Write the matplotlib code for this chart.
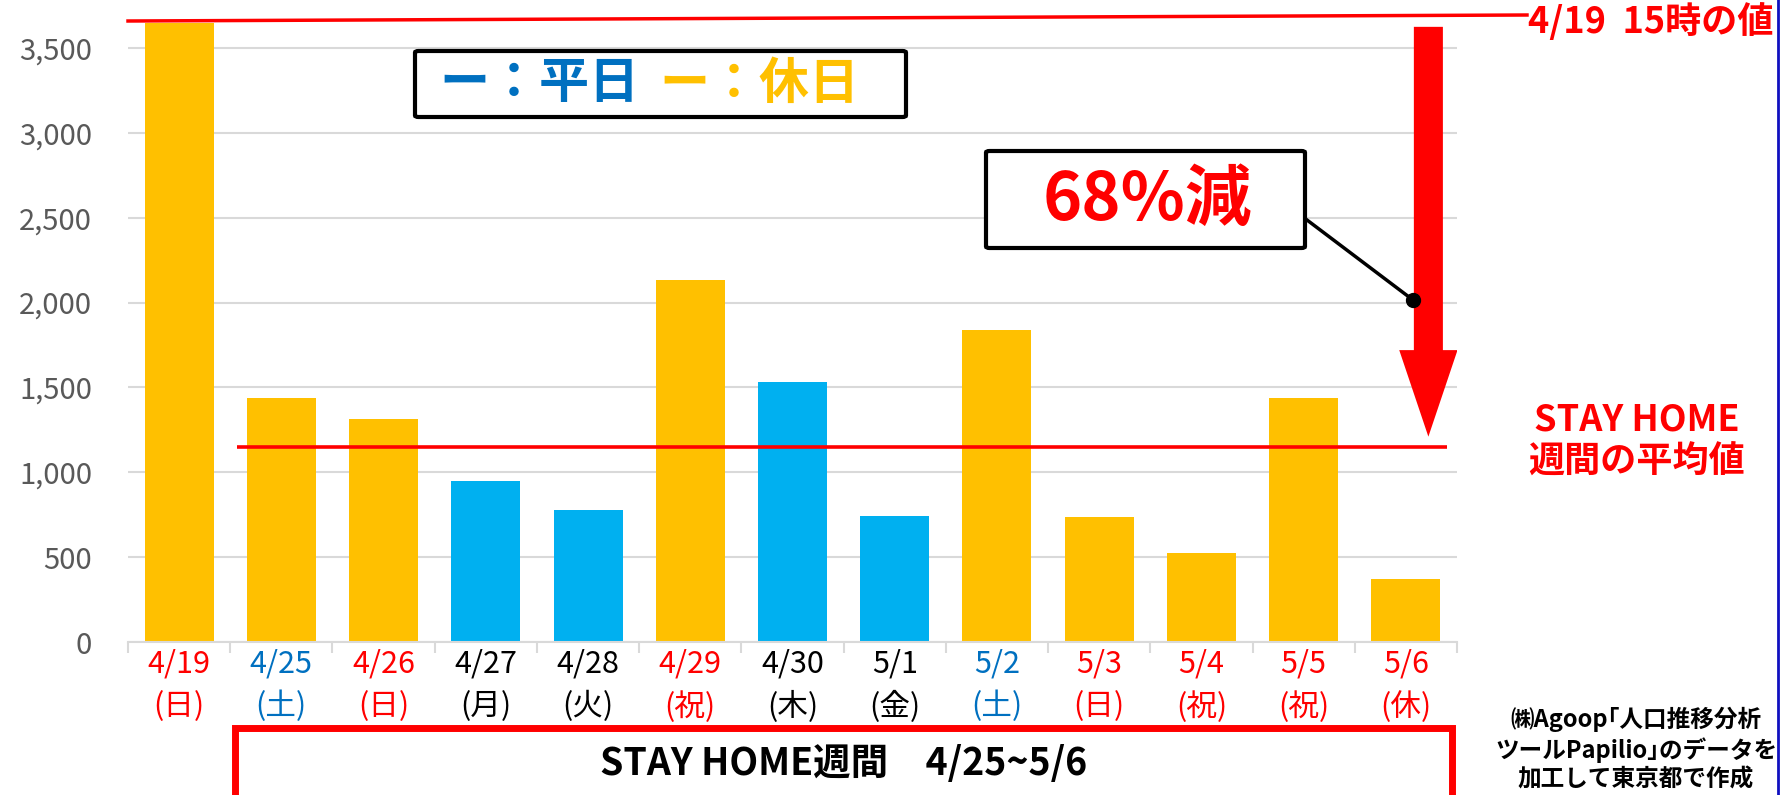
import matplotlib
matplotlib.use('Agg')
import matplotlib.pyplot as plt
from matplotlib.patches import Rectangle, FancyArrow, FancyBboxPatch
from matplotlib.lines import Line2D
from matplotlib.ticker import FuncFormatter

plt.rcParams['font.family'] = ['Noto Sans CJK JP', 'DejaVu Sans']

# data
dates = ['4/19', '4/25', '4/26', '4/27', '4/28', '4/29', '4/30',
         '5/1', '5/2', '5/3', '5/4', '5/5', '5/6']
weekdays = ['日', '土', '日', '月', '火', '祝', '木', '金', '土', '日', '祝', '祝', '休']
values = [3700, 1440, 1315, 950, 780, 2135, 1530, 745, 1840, 735, 525, 1435, 370]
day_type = ['holiday', 'holiday', 'holiday', 'weekday', 'weekday', 'holiday',
            'weekday', 'weekday', 'holiday', 'holiday', 'holiday', 'holiday', 'holiday']
label_kind = ['red', 'blue', 'red', 'black', 'black', 'red', 'black',
              'black', 'blue', 'red', 'red', 'red', 'red']

YELLOW = '#FFC000'
CYAN = '#00B0F0'
BLUE = '#0070C0'
RED = '#FF0000'
GRID = '#D9D9D9'

W, H = 1781, 795


def fx(x):
    return x / W


def fy(y):
    return 1 - y / H


fig = plt.figure(figsize=(W / 100, H / 100), dpi=100)
ax = fig.add_axes([fx(128), fy(642), (1457 - 128) / W, (642 - 22.6) / H])

x = list(range(len(dates)))
bar_colors = [CYAN if t == 'weekday' else YELLOW for t in day_type]
ax.bar(x, values, width=0.675, color=bar_colors, zorder=2)

ax.set_xlim(-0.5, len(dates) - 0.5)
ax.set_ylim(0, 3650)
ax.set_yticks(range(0, 3501, 500))
ax.yaxis.set_major_formatter(FuncFormatter(lambda v, p: f'{v:,.0f}'))
ax.yaxis.grid(True, color=GRID, lw=1.5)
ax.set_axisbelow(True)
for s in ['top', 'right', 'left']:
    ax.spines[s].set_visible(False)
ax.spines['bottom'].set_color(GRID)
ax.spines['bottom'].set_linewidth(1.5)
ax.tick_params(axis='y', length=0, pad=26, labelsize=21, labelcolor='#595959')

ax.set_xticks(x)
ax.set_xticklabels([f'{d}\n({w})' for d, w in zip(dates, weekdays)],
                   fontsize=22, linespacing=1.45)
ax.set_xticks([i - 0.5 for i in range(len(dates) + 1)], minor=True)
ax.tick_params(axis='x', which='major', length=0, pad=5)
ax.tick_params(axis='x', which='minor', length=8, width=1.5, color=GRID)
cmap = {'red': RED, 'blue': BLUE, 'black': 'black'}
for lab, k in zip(ax.get_xticklabels(), label_kind):
    lab.set_color(cmap[k])

# STAY HOME average
avg = sum(values[1:]) / len(values[1:])
ax.hlines(avg, 0.566, 12.4, color=RED, lw=2.6, zorder=4)

# big red arrow from the 4/19 value down to the average
ax.add_patch(FancyArrow(12.22, 3625, 0, (avg + 60) - 3625, width=0.284,
                        head_width=0.57, head_length=510,
                        length_includes_head=True, color=RED, lw=0, zorder=5))

# line for the 4/19 15時 value
fig.add_artist(Line2D([fx(128), fx(1527)], [fy(21), fy(15)], color=RED, lw=2.5))
fig.text(fx(1528), fy(22), '4/19  15時の値', color=RED, fontsize=26,
         fontweight='bold', ha='left', va='center')

# legend box
fig.add_artist(FancyBboxPatch((fx(415), fy(117)), (906 - 415) / W, (117 - 51) / H,
                              boxstyle='round,pad=0,rounding_size=0.002',
                              fill=False, ec='black', lw=3))
fig.text(fx(539), fy(84), 'ー：平日', color=BLUE, fontsize=36,
         fontweight='bold', ha='center', va='center')
fig.text(fx(759), fy(84), 'ー：休日', color=YELLOW, fontsize=36,
         fontweight='bold', ha='center', va='center')

# 68% box and connector
fig.add_artist(FancyBboxPatch((fx(986), fy(248)), (1305 - 986) / W, (248 - 151) / H,
                              boxstyle='round,pad=0,rounding_size=0.002',
                              fc='white', ec='black', lw=3))
fig.text(fx(1147), fy(200), '68%減', color=RED, fontsize=48,
         fontweight='bold', ha='center', va='center')
fig.add_artist(Line2D([fx(1307), fx(1413)], [fy(220), fy(300)], color='black', lw=2.5))
fig.add_artist(Line2D([fx(1413)], [fy(300)], marker='o', color='black', ms=10))

# right side texts
fig.text(fx(1637), fy(441), 'STAY HOME\n週間の平均値', color=RED, fontsize=26,
         fontweight='bold', ha='center', va='center', linespacing=1.2)
fig.text(fx(1636), fy(749), '㈱Agoop｢人口推移分析\nツールPapilio｣のデータを\n加工して東京都で作成',
         color='black', fontsize=17, fontweight='bold', ha='center', va='center',
         linespacing=1.25)

# STAY HOME period box
fig.add_artist(Rectangle((fx(235), fy(805)), (1452 - 235) / W, (805 - 728) / H,
                         fill=False, ec=RED, lw=5))
fig.text(fx(844), fy(763), 'STAY HOME週間　4/25~5/6', color='black', fontsize=27,
         fontweight='bold', ha='center', va='center')

# blue edge line on the right
fig.add_artist(Line2D([fx(1778), fx(1778)], [0, 1], color='#1010C0', lw=2))

fig.savefig('out.png', dpi=100)
